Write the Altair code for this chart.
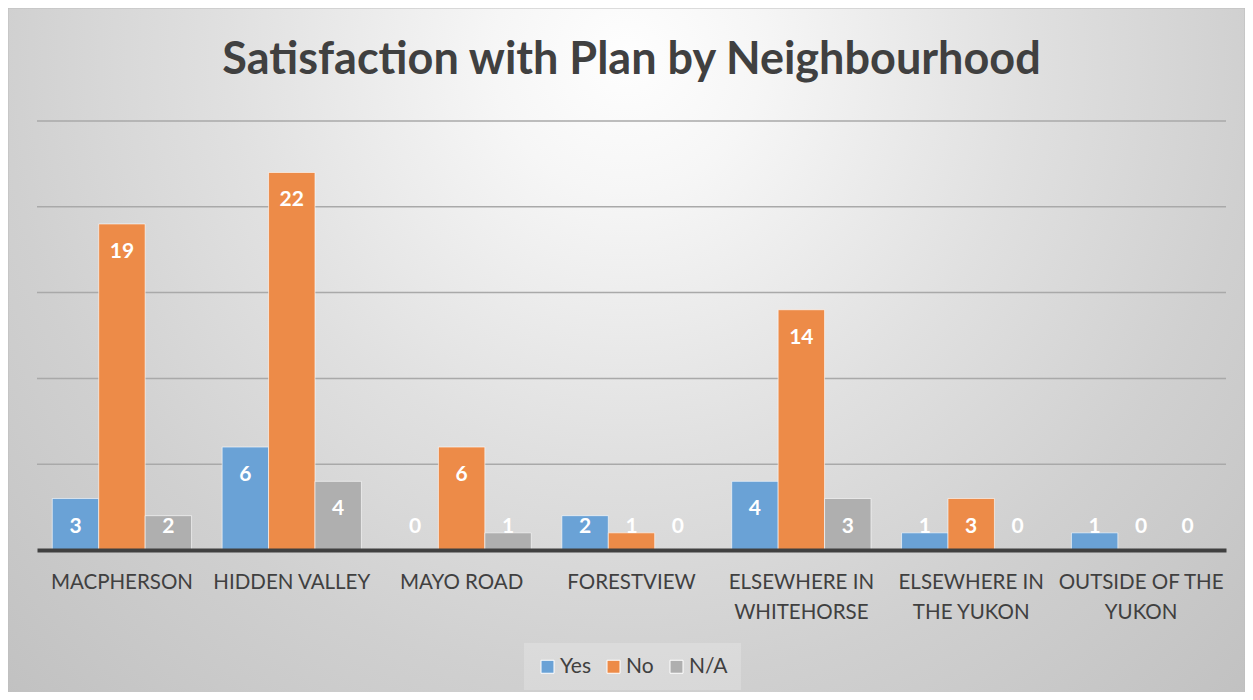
import altair as alt
import pandas as pd

categories = ["MACPHERSON", "HIDDEN VALLEY", "MAYO ROAD", "FORESTVIEW",
              "ELSEWHERE IN WHITEHORSE", "ELSEWHERE IN THE YUKON", "OUTSIDE OF THE YUKON"]
series = ["Yes", "No", "N/A"]
yes_vals = [3, 6, 0, 2, 4, 1, 1]
no_vals = [19, 22, 6, 1, 14, 3, 0]
na_vals = [2, 4, 1, 0, 3, 0, 0]
colors = ["#6aa2d6", "#ed8b48", "#afafaf"]
grid_values = [5, 10, 15, 20, 25]
wrapped = {
    "ELSEWHERE IN WHITEHORSE": ["ELSEWHERE IN", "WHITEHORSE"],
    "ELSEWHERE IN THE YUKON": ["ELSEWHERE IN", "THE YUKON"],
    "OUTSIDE OF THE YUKON": ["OUTSIDE OF THE", "YUKON"],
}

rows = []
for i, c in enumerate(categories):
    for s, vals in zip(series, [yes_vals, no_vals, na_vals]):
        rows.append({"category": c, "series": s, "value": vals[i]})
df = pd.DataFrame(rows)

label_expr = ""
for k, v in wrapped.items():
    label_expr += "datum.label == '%s' ? ['%s', '%s'] : " % (k, v[0], v[1])
label_expr += "datum.label"

W, H = 1189, 429
PL, PT, PR, PB = 29, 113, 19, 142
TOTAL_W = W + PL + PR

gradient = {
    "gradient": "radial",
    "x1": 0.5, "y1": 0.04, "r1": 0,
    "x2": 0.5, "y2": 0.04, "r2": 0.72,
    "stops": [
        {"offset": 0, "color": "#fefefe"},
        {"offset": 0.15, "color": "#f6f6f6"},
        {"offset": 0.45, "color": "#e0e0e0"},
        {"offset": 0.7, "color": "#d0d0d0"},
        {"offset": 1, "color": "#c1c1c1"},
    ],
}

bg = alt.Chart(pd.DataFrame({"k": [0]})).mark_rect(
    fill=gradient, stroke="#bdbdbd", strokeWidth=1
).encode(
    x=alt.value(-PL), x2=alt.value(W + PR),
    y=alt.value(-PT), y2=alt.value(-PT + TOTAL_W),
)

yscale = alt.Scale(domain=[0, 25], nice=False)

grid = alt.Chart(pd.DataFrame({"g": grid_values})).mark_rule(
    color="#a9a9a9", strokeWidth=1.5
).encode(y=alt.Y("g:Q", scale=yscale, axis=None))

xenc = alt.X(
    "category:N", sort=categories,
    scale=alt.Scale(paddingInner=0.18, paddingOuter=0.09),
    axis=alt.Axis(
        title=None, labelExpr=label_expr, labelFont="Lato", labelFontSize=20.5,
        labelColor="#404040", labelLineHeight=30, labelPadding=22, ticks=False,
        tickSize=0, domainColor="#404040", domainWidth=4, labelAngle=0,
        grid=False, labelLimit=300, zindex=1,
    ),
)
xoff = alt.XOffset("series:N", sort=series, scale=alt.Scale(paddingInner=0, paddingOuter=0))

bars = alt.Chart(df).mark_bar(stroke="white", strokeOpacity=0.6, strokeWidth=1).encode(
    x=xenc,
    xOffset=xoff,
    y=alt.Y("value:Q", scale=yscale, axis=None),
    color=alt.Color(
        "series:N", sort=series,
        scale=alt.Scale(domain=series, range=colors),
        legend=alt.Legend(
            title=None, orient="none", legendX=487, legendY=522,
            direction="horizontal", symbolType="square", symbolSize=169,
            symbolStrokeColor="white", symbolStrokeWidth=1, symbolOpacity=1,
            labelFont="Lato", labelFontSize=21, labelColor="#404040",
            labelOffset=2, columnPadding=12, padding=13,
            fillColor="rgba(255,255,255,0.2)",
        ),
    ),
)

labels = alt.Chart(df).transform_calculate(
    ly="max(datum.value, 3)"
).mark_text(
    font="Lato", fontWeight="bold", fontSize=21, color="white",
    baseline="middle", dy=28,
).encode(
    x=alt.X("category:N", sort=categories),
    xOffset=xoff,
    y=alt.Y("ly:Q", scale=yscale, axis=None),
    text=alt.Text("value:Q"),
)

chart = alt.layer(bg, grid, bars, labels).properties(
    width=W, height=H,
    autosize=alt.AutoSizeParams(type="none"),
    padding={"left": PL, "top": PT, "right": PR, "bottom": PB},
    title=alt.TitleParams(
        "Satisfaction with Plan by Neighbourhood", font="Lato", fontSize=45,
        fontWeight="bold", color="#404040", anchor="middle", frame="group",
        baseline="alphabetic", offset=-111,
    ),
).configure_view(stroke=None).configure(background="white")

chart.save("out.html", embed_options={"renderer": "svg", "actions": False})
